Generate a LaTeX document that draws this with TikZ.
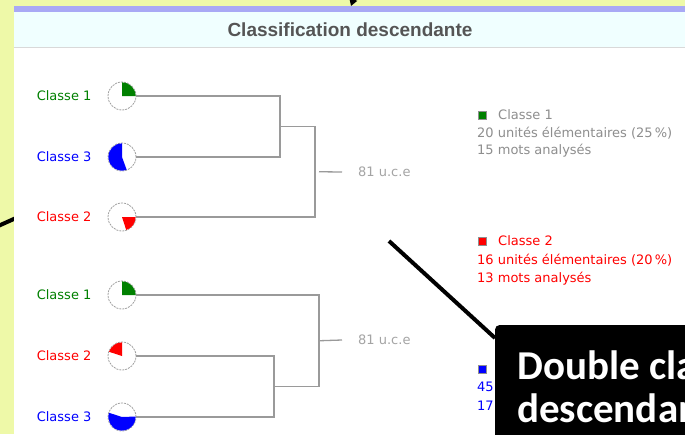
\documentclass[tikz,border=0pt]{standalone}
\usepackage{fontspec}
\setmainfont{DejaVu Sans}
\newfontfamily\headfont{Liberation Sans}
\newfontfamily\boxfont{Carlito}
\usetikzlibrary{positioning,arrows.meta}
\definecolor{bgyellow}{HTML}{EEF9A8}
\definecolor{bandblue}{HTML}{A9A9F5}
\definecolor{headcyan}{HTML}{F0FFFF}
\definecolor{headgray}{HTML}{555555}
\definecolor{cgreen}{HTML}{008000}
\definecolor{cred}{HTML}{FF0000}
\definecolor{cblue}{HTML}{0000FF}
\definecolor{linegray}{HTML}{9A9A9A}
\definecolor{piegray}{HTML}{A0A0A0}
\definecolor{txtgray}{HTML}{8E8E8E}
\definecolor{ucegray}{HTML}{A4A4A4}
\definecolor{sqgray}{HTML}{909090}
\tikzset{
	pie/.style={circle,draw=piegray,dash pattern=on 2pt off 1pt,line width=0.8pt,fill=white,minimum size=28pt,inner sep=0pt},
	classlbl/.style={font=\fontsize{13}{15}\selectfont,inner sep=1pt},
	dendro/.style={draw=linegray,line width=1.3pt},
	ucelbl/.style={font=\fontsize{13}{15}\selectfont,text=ucegray,inner sep=0pt,anchor=west},
	legsq/.style={draw=sqgray,line width=1pt,minimum size=8pt,inner sep=0pt},
	legtxt/.style={font=\fontsize{13}{15}\selectfont,inner sep=0pt,anchor=west},
	pointer/.style={line width=4pt,black},
	calloutbox/.style={fill=black,text=white,rounded corners=4pt,anchor=north west,align=left,font=\boxfont\bfseries\fontsize{41}{43}\selectfont,inner xsep=22pt,inner ysep=25pt}
}
\newcommand{\drawwedge}[4]{\fill[#1] (#2.center) -- ++(#3:13.6) arc[start angle=#3,end angle=#4,radius=13.6] -- cycle;}
\begin{document}
\begin{tikzpicture}[x=1pt,y=1pt]
	\useasboundingbox (0,0) rectangle (685,-434);
	\clip (0,0) rectangle (685,-434);
	\fill[bgyellow] (0,0) rectangle (685,-434);
	\coordinate (lin) at (-4,-227);
	\coordinate (lout) at (16,-218);
	\draw[pointer] (lin) -- (lout);
	\coordinate (atop) at (358,14);
	\coordinate (atip) at (351,-6);
	\draw[line width=2pt,-{Triangle[length=7pt,width=8pt]}] (atop) -- (atip);
	\fill[white] (14,-6) rectangle (685,-434);
	\fill[bandblue] (14,-6) rectangle (685,-12);
	\fill[headcyan] (14,-12) rectangle (685,-47);
	\draw[gray!30,line width=1.5pt] (14,-47.5) -- (685,-47.5);
	\node[font=\headfont\bfseries\fontsize{19}{22}\selectfont,text=headgray] (title) at (350,-30) {Classification descendante};

	\node[pie] (c1a) at (122,-96) {};
	\node[pie] (c3a) at (122,-157) {};
	\node[pie] (c2a) at (122,-217) {};
	\drawwedge{cgreen}{c1a}{0}{90}
	\drawwedge{cblue}{c3a}{90}{290}
	\drawwedge{cred}{c2a}{0}{-72}
	\node[classlbl,text=cgreen,left=15pt of c1a] (n1a) {Classe 1};
	\node[classlbl,text=cblue,left=15pt of c3a] (n3a) {Classe 3};
	\node[classlbl,text=cred,left=15pt of c2a] (n2a) {Classe 2};
	\coordinate (j13) at (280,-126.5);
	\coordinate (j132) at (315,-171.75);
	\draw[dendro] (c1a.east) -| (j13) |- (c3a.east);
	\draw[dendro] (j13) -| (j132) |- (c2a.east);
	\node[ucelbl] (ucea) at (358,-172) {81 u.c.e};
	\draw[dendro] ([xshift=4pt]j132) -- ([xshift=-16pt]ucea.west);

	\node[pie] (c1b) at (122,-295) {};
	\node[pie] (c2b) at (122,-356) {};
	\node[pie] (c3b) at (122,-417) {};
	\drawwedge{cgreen}{c1b}{0}{90}
	\drawwedge{cred}{c2b}{90}{162}
	\drawwedge{cblue}{c3b}{162}{362}
	\node[classlbl,text=cgreen,left=15pt of c1b] (n1b) {Classe 1};
	\node[classlbl,text=cred,left=15pt of c2b] (n2b) {Classe 2};
	\node[classlbl,text=cblue,left=15pt of c3b] (n3b) {Classe 3};
	\coordinate (j23) at (274,-386.5);
	\coordinate (j123) at (319,-340.75);
	\draw[dendro] (c2b.east) -| (j23) |- (c3b.east);
	\draw[dendro] (c1b.east) -| (j123) |- (j23);
	\node[ucelbl] (uceb) at (358,-340) {81 u.c.e};
	\draw[dendro] (j123) -- ([xshift=-16pt]uceb.west);

	\node[legsq,fill=cgreen] (sq1) at (482,-115) {};
	\node[legtxt,text=txtgray] (lg1) at (498,-115) {Classe 1};
	\node[legtxt,text=txtgray] (lg1u) at (477,-133) {20 unités élémentaires (25\,\%)};
	\node[legtxt,text=txtgray] (lg1m) at (477,-151) {15 mots analysés};
	\node[legsq,fill=cred] (sq2) at (482,-241) {};
	\node[legtxt,text=cred] (lg2) at (498,-241) {Classe 2};
	\node[legtxt,text=cred] (lg2u) at (477,-260) {16 unités élémentaires (20\,\%)};
	\node[legtxt,text=cred] (lg2m) at (477,-279) {13 mots analysés};
	\node[legsq,fill=cblue] (sq3) at (482,-369) {};
	\node[legtxt,text=cblue] (lg3u) at (477,-387) {45};
	\node[legtxt,text=cblue] (lg3m) at (477,-406) {17};

	\node[calloutbox] (cb) at (495,-325) {Double classification\\descendante};
	\coordinate (ptr) at (389,-241);
	\draw[pointer] (ptr) -- ([yshift=-13pt]cb.north west);
\end{tikzpicture}
\end{document}
